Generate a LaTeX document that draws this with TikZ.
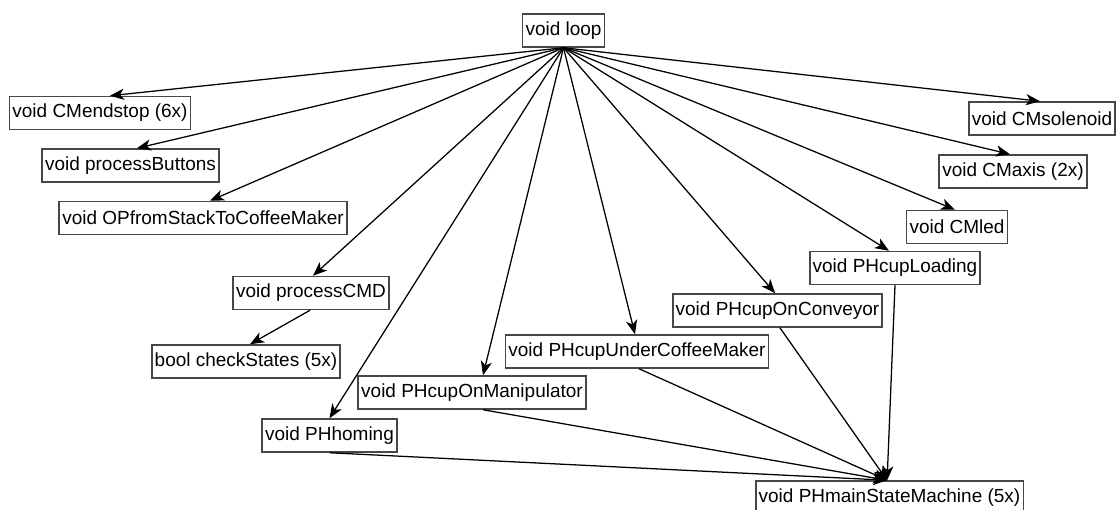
\documentclass[tikz,border=0pt]{standalone}
\usepackage{fontspec}
\setmainfont{Liberation Sans}
\usetikzlibrary{arrows.meta,shapes}

\tikzset{
  fn/.style={draw=black!72,line width=1.2pt,fill=white,inner xsep=0.075cm,inner ysep=0pt,
    minimum height=0.82cm,font=\fontsize{13.5pt}{16pt}\selectfont},
  call/.style={line width=0.9pt,-{Stealth[length=10pt,width=8pt,inset=2.8pt]}},
  tail/.style={line width=0.9pt}
}

\begin{document}
\begin{tikzpicture}[x=0.025cm,y=-0.025cm]
\useasboundingbox (0,0) rectangle (1119,510);
\node[fn] (loop) at (563.5,30.5) {void loop};
\node[fn] (endstop) at (100,113) {void CMendstop (6x)};
\node[fn] (buttons) at (130.5,165.5) {void processButtons};
\node[fn] (opstack) at (203,218) {void OPfromStackToCoffeeMaker};
\node[fn] (cmd) at (311,293) {void processCMD};
\node[fn] (check) at (246,361.5) {bool checkStates (5x)};
\node[fn] (homing) at (329.5,435.5) {void PHhoming};
\node[fn] (manip) at (472,392.5) {void PHcupOnManipulator};
\node[fn] (under) at (637,351.5) {void PHcupUnderCoffeeMaker};
\node[fn] (conv) at (777.5,310.5) {void PHcupOnConveyor};
\node[fn] (loading) at (895,268) {void PHcupLoading};
\node[fn] (led) at (957,227) {void CMled};
\node[fn] (axis) at (1013,171.5) {void CMaxis (2x)};
\node[fn] (solenoid) at (1042,118.5) {void CMsolenoid};
\node[fn] (main) at (889.5,497.5) {void PHmainStateMachine (5x)};

% loop -> callees
\draw[call] (loop.south) -- ([xshift=0.25cm]endstop.north);
\draw[call] (loop.south) -- ([xshift=0.16cm]buttons.north);
\draw[call] (loop.south) -- ([xshift=0.175cm]opstack.north);
\draw[call] (loop.south) -- ([xshift=0.05cm]cmd.north);
\draw[call] (loop.south) -- (homing.north);
\draw[call] (loop.south) -- ([xshift=0.275cm]manip.north);
\draw[call] (loop.south) -- ([xshift=-0.05cm]under.north);
\draw[call] (loop.south) -- ([xshift=-0.06cm]conv.north);
\draw[call] (loop.south) -- ([xshift=-0.15cm]loading.north);
\draw[call] (loop.south) -- ([xshift=-0.05cm]led.north);
\draw[call] (loop.south) -- ([xshift=-0.075cm]axis.north);
\draw[call] (loop.south) -- ([xshift=-0.05cm]solenoid.north);
\draw[call] ([xshift=-0.025cm]cmd.south) -- ([xshift=0.1cm]check.north);

% PH* -> main state machine
\coordinate (mainin) at ([xshift=-0.06cm]main.north);
\draw[call] (homing.south) -- (mainin);
\draw[call] ([xshift=0.275cm]manip.south) -- (mainin);
\draw[call] ([xshift=0.05cm]under.south) -- (mainin);
\draw[call] ([xshift=0.06cm]conv.south) -- (mainin);
\draw[call] (loading.south) -- (mainin);
\end{tikzpicture}
\end{document}
